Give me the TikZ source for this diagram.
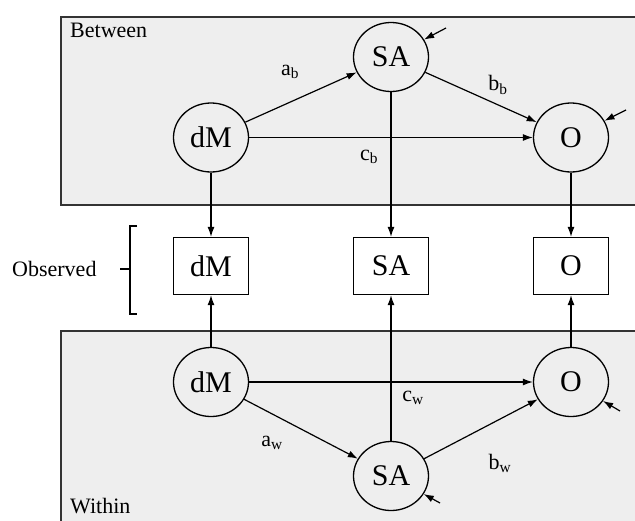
\documentclass[tikz,border=0pt]{standalone}
\usepackage{fontspec}
\setmainfont{Liberation Serif}
\usetikzlibrary{shapes.geometric,arrows.meta}
\definecolor{panel}{HTML}{EEEEEE}
\definecolor{panelline}{HTML}{333333}
\tikzset{
  latent/.style={ellipse,draw,line width=1.3pt,fill=panel,minimum width=75pt,minimum height=69pt,inner sep=0pt,font=\fontsize{30}{30}\selectfont},
  obsbox/.style={rectangle,draw,line width=1.3pt,fill=white,minimum width=75pt,minimum height=57pt,inner sep=0pt,font=\fontsize{30}{30}\selectfont},
  arr/.style={line width=1.2pt,-{Latex[length=10pt,width=7pt]}},
  plain/.style={line width=1.2pt},
  lbl/.style={font=\fontsize{22}{22}\selectfont,inner sep=0pt},
  panelbox/.style={draw=panelline,line width=1.6pt,fill=panel}
}
\begin{document}
\begin{tikzpicture}[x=1pt,y=-1pt]
\useasboundingbox (0,0) rectangle (635,520);
\clip (0,0) rectangle (635,520);
% panels
\draw[panelbox] (61,17) rectangle (645,205);
\draw[panelbox] (61,331) rectangle (645,530);
\node[lbl,anchor=west] (between) at (70,30) {Between};
\node[lbl,anchor=west] (within) at (70,506) {Within};
% between latent nodes
\node[latent] (SAb) at (391,57) {SA};
\node[latent] (dMb) at (211,137.5) {dM};
\node[latent] (Ob) at (571,137.5) {O};
% observed
\node[obsbox] (dMo) at (211,266) {dM};
\node[obsbox] (SAo) at (391,266) {SA};
\node[obsbox] (Oo) at (571,266) {O};
% within latent nodes
\node[latent] (dMw) at (211,382) {dM};
\node[latent] (Ow) at (571,382) {O};
\node[latent] (SAw) at (391,476) {SA};
% vertical arrows
\draw[arr] (SAb) -- (SAo);
\draw[arr] (SAw) -- (SAo);
% between paths
\draw[arr] (dMb) -- (SAb);
\draw[arr] (SAb) -- (Ob);
\draw[arr] (dMb) -- (Ob);
\draw[arr] (dMb) -- (dMo);
\draw[arr] (Ob) -- (Oo);
% within paths
\draw[arr] (dMw) -- (Ow);
\draw[arr] (dMw) -- (SAw);
\draw[arr] (SAw) -- (Ow);
\draw[arr] (dMw) -- (dMo);
\draw[arr] (Ow) -- (Oo);
% residual arrows
\coordinate (eSAb) at (446,28);
\coordinate (eOb) at (626,110);
\coordinate (eOw) at (620,411);
\coordinate (eSAw) at (440,503);
\draw[arr] (eSAb) -- (SAb);
\draw[arr] (eOb) -- (Ob);
\draw[arr] (eOw) -- (Ow);
\draw[arr] (eSAw) -- (SAw);
% path labels
\node[lbl] (ab) at (290,72) {a\textsubscript{b}};
\node[lbl] (bb) at (498,85) {b\textsubscript{b}};
\node[lbl] (cb) at (369,157) {c\textsubscript{b}};
\node[lbl] (cw) at (413,398) {c\textsubscript{w}};
\node[lbl] (aw) at (272,443) {a\textsubscript{w}};
\node[lbl] (bw) at (500,463) {b\textsubscript{w}};
% observed bracket
\node[lbl,anchor=west] (obs) at (12,269) {Observed};
\coordinate (brt) at (137,226);
\coordinate (brb) at (137,314);
\coordinate (brm) at (130,269);
\coordinate (brl) at (120,269);
\draw[plain] (brt) -- (130,226) -- (130,314) -- (brb);
\draw[plain] (brl) -- (brm);
\end{tikzpicture}
\end{document}
